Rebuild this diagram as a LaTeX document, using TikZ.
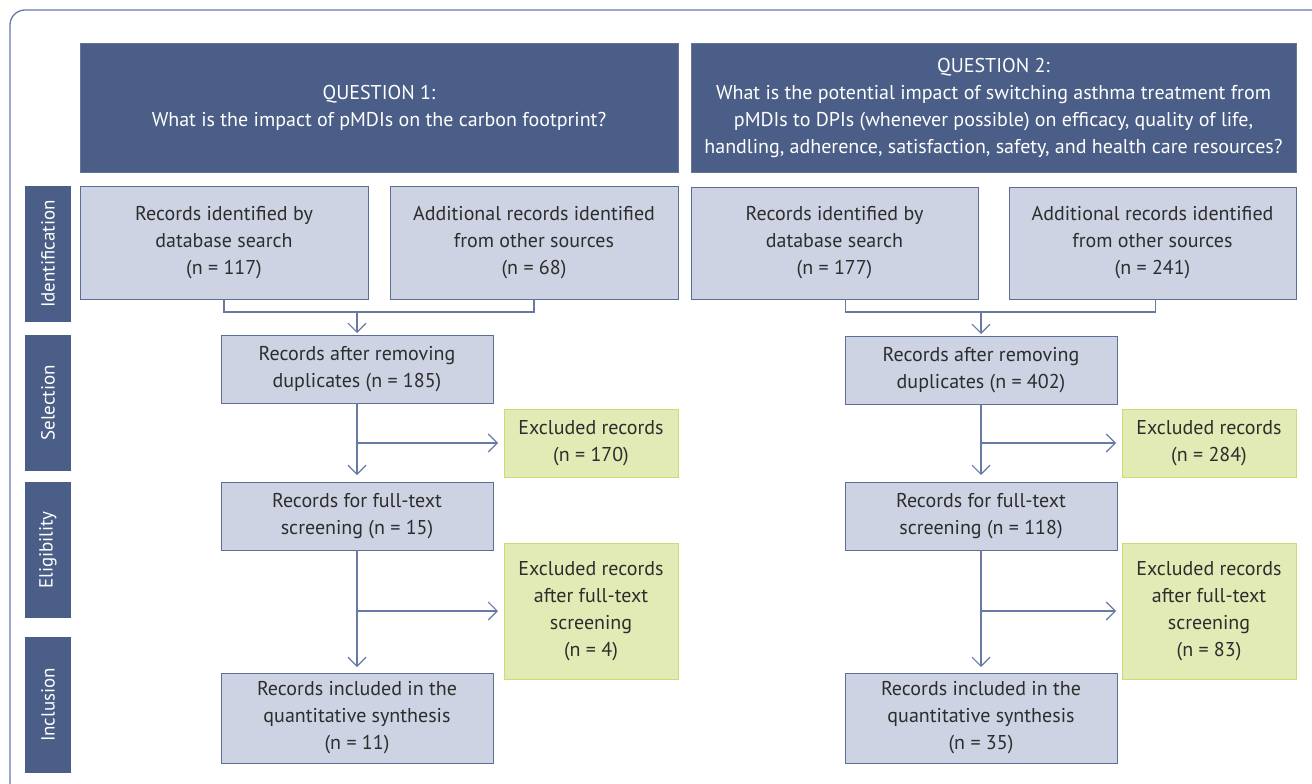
\documentclass[tikz,border=0pt]{standalone}
\usepackage{fontspec}
\setmainfont{PT Sans}
\usetikzlibrary{arrows.meta}
\definecolor{hdr}{RGB}{74,94,135}
\definecolor{boxfill}{RGB}{205,211,227}
\definecolor{boxline}{RGB}{92,110,152}
\definecolor{grfill}{RGB}{226,235,181}
\definecolor{grline}{RGB}{203,220,112}
\definecolor{linecol}{RGB}{104,122,164}
\definecolor{txt}{RGB}{45,45,45}
\tikzset{
  base/.style={inner sep=0pt, outer sep=0pt, align=center, font=\fontsize{20}{27}\selectfont},
  header/.style={base, fill=hdr, draw=hdr!85!white, line width=0.8pt, text=white},
  recbox/.style={base, fill=boxfill, draw=boxline, line width=1pt, text=txt},
  exbox/.style={base, fill=grfill, draw=grline, line width=1pt, text=txt},
  sidebar/.style={base, fill=hdr, text=white, rotate=90, font=\fontsize{19}{24}\selectfont},
  conn/.style={draw=linecol, line width=1.2pt},
  arr/.style={conn, -{Straight Barb[length=9pt,width=18pt,line width=1.2pt]}},
}
\begin{document}
\begin{tikzpicture}[x=1pt,y=-1pt]
\useasboundingbox (0,0) rectangle (1312,784);
\clip (0,0) rectangle (1312,784);
\draw[linecol, line width=1.3pt, rounded corners=15pt] (10,10) rectangle (1326,798);

% headers
\node[header, minimum width=598pt, minimum height=129pt] (q1) at (379,107.5)
  {QUESTION 1:\\What is the impact of pMDIs on the carbon footprint?};
\node[header, minimum width=605pt, minimum height=129pt] (q2) at (993.5,107.5)
  {QUESTION 2:\\What is the potential impact of switching asthma treatment from\\pMDIs to DPIs (whenever possible) on efficacy, quality of life,\\handling, adherence, satisfaction, safety, and health care resources?};

% side bars
\node[sidebar, minimum width=136pt, minimum height=46pt] (sb1) at (48,254) {Identification};
\node[sidebar, minimum width=136pt, minimum height=46pt] (sb2) at (48,403) {Selection};
\node[sidebar, minimum width=136pt, minimum height=46pt] (sb3) at (48,550) {Eligibility};
\node[sidebar, minimum width=136pt, minimum height=46pt] (sb4) at (48,705) {Inclusion};

% Question 1 column
\node[recbox, minimum width=288pt, minimum height=113pt] (a1) at (224,242.5)
  {Records identified by\\database search\\(n = 117)};
\node[recbox, minimum width=288pt, minimum height=113pt] (b1) at (534,242.5)
  {Additional records identified\\from other sources\\(n = 68)};
\node[recbox, minimum width=272pt, minimum height=68pt] (s1) at (357,369)
  {Records after removing\\duplicates (n = 185)};
\node[exbox, minimum width=174pt, minimum height=68pt] (x1) at (591,443)
  {Excluded records\\(n = 170)};
\node[recbox, minimum width=272pt, minimum height=68pt] (e1) at (357,516)
  {Records for full-text\\screening (n = 15)};
\node[exbox, minimum width=174pt, minimum height=136pt] (y1) at (591,611)
  {Excluded records\\after full-text\\screening\\(n = 4)};
\node[recbox, minimum width=272pt, minimum height=90pt] (i1) at (357,718)
  {Records included in the\\quantitative synthesis\\(n = 11)};

% Question 2 column
\node[recbox, minimum width=287pt, minimum height=112pt] (a2) at (834.5,243)
  {Records identified by\\database search\\(n = 177)};
\node[recbox, minimum width=287pt, minimum height=112pt] (b2) at (1152.5,243)
  {Additional records identified\\from other sources\\(n = 241)};
\node[recbox, minimum width=272pt, minimum height=68pt] (s2) at (981,370)
  {Records after removing\\duplicates (n = 402)};
\node[exbox, minimum width=174pt, minimum height=68pt] (x2) at (1209,443)
  {Excluded records\\(n = 284)};
\node[recbox, minimum width=272pt, minimum height=68pt] (e2) at (981,516)
  {Records for full-text\\screening (n = 118)};
\node[exbox, minimum width=174pt, minimum height=136pt] (y2) at (1209,611)
  {Excluded records\\after full-text\\screening\\(n = 83)};
\node[recbox, minimum width=272pt, minimum height=90pt] (i2) at (981,718)
  {Records included in the\\quantitative synthesis\\(n = 35)};

% connectors Q1
\coordinate (m1) at (0,312);
\draw[conn] (a1.south) -- (a1.south |- m1) -| (b1.south);
\draw[arr, shorten >=2pt] (s1.north |- m1) -- (s1.north);
\draw[arr, shorten >=7pt] (s1.south) -- (e1.north);
\draw[arr, shorten >=6pt] (s1.south |- x1.west) -- (x1.west);
\draw[arr, shorten >=6pt] (e1.south) -- (i1.north);
\draw[arr, shorten >=6pt] (e1.south |- y1.west) -- (y1.west);

% connectors Q2
\coordinate (m2) at (0,312);
\draw[conn] ([xshift=11pt]a2.south) -- ([xshift=11pt]a2.south |- m2) -| ([xshift=3pt]b2.south);
\draw[arr, shorten >=2pt] (s2.north |- m2) -- (s2.north);
\draw[arr, shorten >=7pt] (s2.south) -- (e2.north);
\draw[arr, shorten >=6pt] (s2.south |- x2.west) -- (x2.west);
\draw[arr, shorten >=6pt] (e2.south) -- (i2.north);
\draw[arr, shorten >=6pt] (e2.south |- y2.west) -- (y2.west);
\end{tikzpicture}
\end{document}
